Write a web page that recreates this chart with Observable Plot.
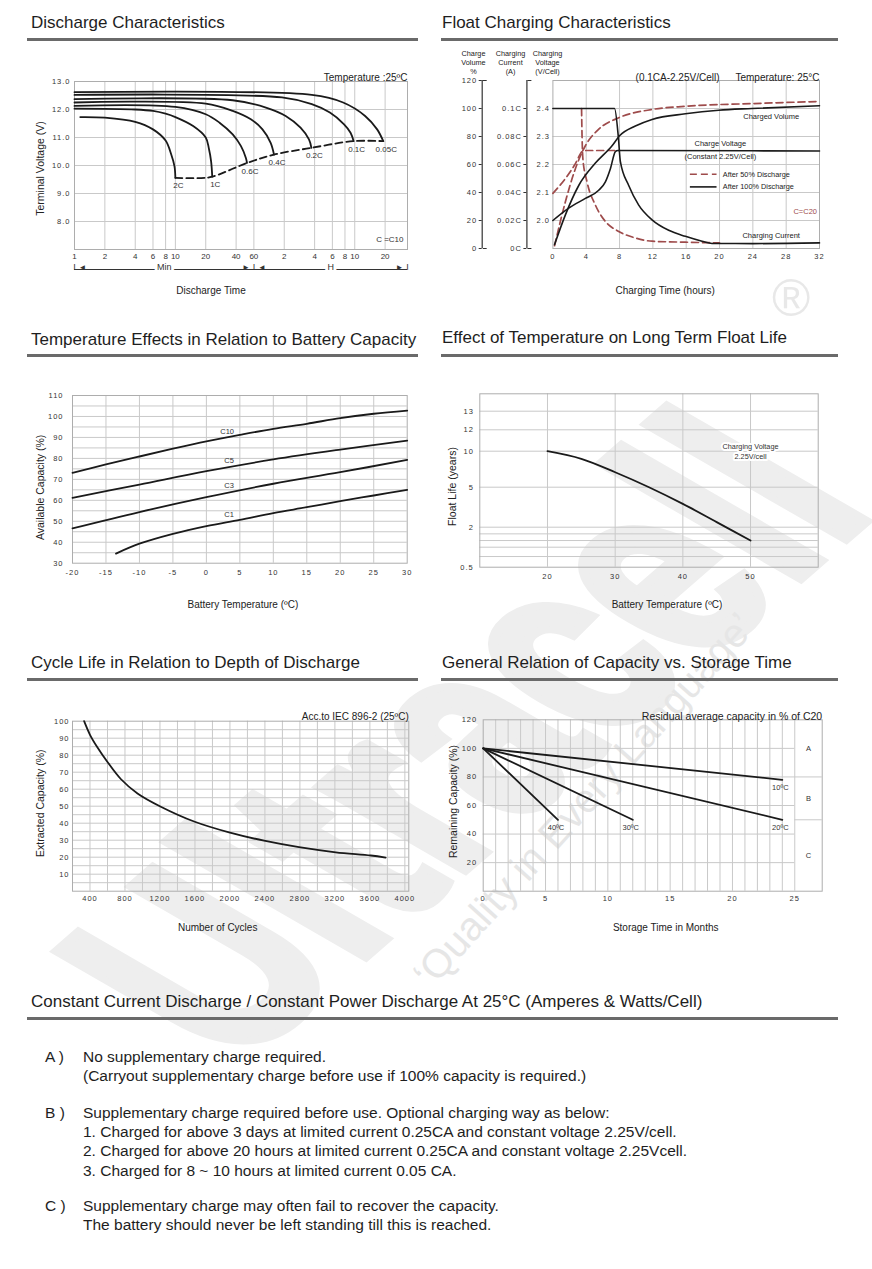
<!DOCTYPE html>
<html>
<head>
<meta charset="utf-8">
<script src="https://cdn.jsdelivr.net/npm/d3@7"></script>
<script src="https://cdn.jsdelivr.net/npm/@observablehq/plot@0.6"></script>
<style>
html,body{margin:0;padding:0;background:#fff;}
#page{position:relative;width:872px;height:1269px;overflow:hidden;font-family:"Liberation Sans",Arial,Helvetica,sans-serif;color:#1e1e1e;}
.wm{position:absolute;white-space:nowrap;line-height:1;transform-origin:50% 50%;}
.title{position:absolute;font-size:17px;line-height:20px;white-space:nowrap;color:#1e1e1e;}
.bar{position:absolute;height:3px;background:#6a6a6a;}
.note{position:absolute;font-size:15.5px;line-height:19px;white-space:nowrap;color:#1e1e1e;}
.sp g[aria-label$="tick label"] text{letter-spacing:1px;}
</style>
</head>
<body>
<div id="page"></div>
<script>
// ================= DATA =================
// Discharge characteristics (time in minutes, terminal voltage in V)
const dischargeTicks = [1,2,4,6,8,10,20,40,60,120,240,360,480,600,1200];
const dischargeTickLabels = ["1","2","4","6","8","10","20","40","60","2","4","6","8","10","20"];
const voltTicks = [8,9,10,11,12,13];
const rateNames = ["2C","1C","0.6C","0.4C","0.2C","0.1C","0.05C"];
const curve2C   = [[1.14,11.73],[2,11.71],[4,11.56],[6,11.29],[8,10.89],[9.1,10.39],[9.8,9.97],[10,9.56]];
const curve1C   = [[1,12.03],[4,12.0],[6,11.95],[8,11.85],[10,11.73],[15,11.41],[20,11.0],[21.5,10.6],[22.6,10.15],[23.2,9.6]];
const curve06C  = [[1,12.13],[10,12.09],[20,11.83],[27.4,11.53],[37,11.11],[44.7,10.69],[50,10.27],[51.3,10.09]];
const curve04C  = [[1,12.25],[20,12.21],[37,11.95],[56,11.65],[73,11.29],[88,10.81],[95,10.39]];
const curve02C  = [[1,12.37],[37,12.33],[79,12.07],[124,11.77],[174,11.35],[211,10.93],[223,10.63]];
const curve01C  = [[1,12.52],[114,12.43],[225,12.19],[340,11.89],[470,11.47],[545,11.17],[585,10.87]];
const curve005C = [[1,12.62],[225,12.52],[460,12.25],[760,11.77],[1000,11.29],[1150,10.87]];
const endVoltage = [[10,9.56],[18,9.55],[23.2,9.6],[51.3,10.09],[95,10.39],[223,10.63],[585,10.87],[1150,10.87]];
const dischargeDomain = [1, 2000];

// Float charging (hours; volume %, current in C, voltage V/cell)
const floatHourTicks = [0,4,8,12,16,20,24,28,32];
const volumeTicks = [0,20,40,60,80,100,120];
const currentTicks = [0,0.02,0.04,0.06,0.08,0.1];
const voltageTicks = [2.0,2.1,2.2,2.3,2.4];
const volume100 = [[0.2,2.8],[1.5,24],[3.1,45],[5.1,61],[7.1,73.4],[8,80.5],[9.9,87.5],[11.9,92.2],[15.9,96.2],[19.9,98.8],[23.9,100],[32,102]];
const current100 = [[0,0.1],[7.4,0.1],[7.85,0.08],[8.1,0.062],[9.1,0.045],[10.3,0.031],[11.9,0.0205],[13.9,0.013],[15.9,0.0087],[17.9,0.0052],[19.1,0.0036],[24,0.0035],[32,0.004]];
const voltage100 = [[0,2.0],[1.9,2.044],[3.9,2.079],[5.5,2.108],[6.3,2.138],[6.9,2.185],[7.5,2.246],[7.8,2.25],[32,2.248]];
const volume50 = [[0.2,2],[1.5,33.4],[2.7,57],[3.9,73.4],[5.5,85.2],[7.9,93.4],[11.9,99.3],[15.9,101.6],[23.9,103.5],[32,105]];
const current50 = [[3.44,0.1],[3.5,0.08],[3.6,0.064],[4.1,0.0475],[5.1,0.031],[6.3,0.0193],[7.9,0.0122],[9.9,0.0075],[11.9,0.0052],[15.9,0.0045],[20,0.004]];
const voltage50 = [[0,2.097],[1.5,2.15],[2.7,2.203],[3.5,2.246],[3.8,2.25],[8,2.25]];

// Temperature effects on capacity
const tempTicks = [-20,-15,-10,-5,0,5,10,15,20,25,30];
const capTicks = [30,40,50,60,70,80,90,100,110];
const capNames = ["C10","C5","C3","C1"];
const capC10 = [[-20,73.1],[-15,77.1],[-10,80.9],[-5,84.6],[0,88.1],[5,91.2],[10,94.1],[15,96.5],[20,99.2],[25,101.3],[30,102.8]];
const capC5  = [[-20,61.2],[-10,67.5],[0,73.9],[10,79.5],[20,84.2],[30,88.5]];
const capC3  = [[-20,46.6],[-10,54.4],[0,61.5],[10,67.9],[20,73.4],[30,79.3]];
const capC1  = [[-13.5,34.6],[-10,39.3],[-5,44.0],[0,47.7],[5,50.7],[10,53.9],[15,56.7],[20,59.6],[25,62.3],[30,65.0]];
const capLabelAt = [[3.1,93],[3.4,79],[3.4,67.1],[3.4,53.2]];

// Float life vs temperature
const lifeTempTicks = [20,30,40,50];
const lifeYearTicks = [0.5,2,5,10,12,13];
const lifeMinorGrid = [0.9,1.25,1.5,1.75];
const lifeTemp = [20,25,30,35,40,45,50];
const lifeYears = [10,8.94,7.08,5.0,3.75,2.38,1.5];

// Cycle life
const cycleTicks = [400,800,1200,1600,2000,2400,2800,3200,3600,4000];
const extractedTicks = [10,20,30,40,50,60,70,80,90,100];
const cycles = [333,400,486,600,752,943,1210,1590,1990,2390,2790,3210,3610,3780];
const extracted = [100,92,84.5,76,66,57.5,49.7,41.0,34.6,29.7,25.9,22.9,21.0,19.8];

// Storage
const monthTicks = [0,5,10,15,20,25];
const remainTicks = [20,40,60,80,100,120];
const storageTemps = ["10ºC","20ºC","30ºC","40ºC"];
const storageEndMonth = [24,24,12,6];
const storageEndCap = [78,50,50,50];
const storageStartCap = 100;
const zoneNames = ["A","B","C"];
const zoneBands = [[80,120],[50,80],[0,50]];

// ================= HELPERS =================
const page = document.getElementById("page");
const FONT = '"Liberation Sans", Arial, Helvetica, sans-serif';
const GRID = "#c9c9c9", FRAME = "#adadad", INK = "#1a1a1a", TXT = "#333", RED = "#9e4b4b";
const style = {background: "transparent", fontFamily: FONT, fontSize: "8px", color: TXT, overflow: "visible"};
const grid = {stroke: GRID, strokeOpacity: 1, strokeWidth: 1};
const str = d => String(d);
function mount(svg, left, top) {
  svg.style.position = "absolute";
  svg.style.left = left + "px";
  svg.style.top = top + "px";
  svg.style.maxWidth = "none";
  svg.classList.add("sp");
  page.appendChild(svg);
}
function div(cls, text, css) {
  const d = document.createElement("div");
  d.className = cls; d.textContent = text;
  Object.assign(d.style, css);
  page.appendChild(d);
  return d;
}
const yTitle = (t, dx, dy) => Plot.text([t], {frameAnchor: "left", textAnchor: "middle", dx, dy, rotate: -90, fontSize: 10.5, fill: "#222"});

// ================= WATERMARK =================
div("wm", "Ultracell", {left: "-130px", top: "585px", fontSize: "300px", fontWeight: "bold", color: "#eeeeee",
  webkitTextStroke: "10px #eeeeee", transform: "rotate(-41deg) skewX(19deg) scale(0.72,1)"});
div("wm", "®", {left: "772px", top: "272px", fontSize: "52px", color: "#e8e8e8"});
div("wm", "‘Quality in Every Language’", {left: "340px", top: "780px", fontSize: "40px", color: "#e6e6e6",
  transform: "rotate(-48deg)"});

// ================= SECTION TITLES =================
const titles = [
  ["Discharge Characteristics", 31, 13, 27, 418, 38],
  ["Float Charging Characteristics", 442, 13, 441, 838, 38],
  ["Temperature Effects in Relation to Battery Capacity", 31, 330, 27, 418, 354],
  ["Effect of Temperature on Long Term Float Life", 442, 328, 441, 838, 354],
  ["Cycle Life in Relation to Depth of Discharge", 31, 653, 27, 418, 678],
  ["General Relation of Capacity vs. Storage Time", 442, 653, 441, 838, 678],
  ["Constant Current Discharge / Constant Power Discharge At 25°C (Amperes & Watts/Cell)", 31, 992, 27, 838, 1017]
];
for (const [t, x, y, x1, x2, ly] of titles) {
  div("title", t, {left: x + "px", top: y + "px"});
  div("bar", "", {left: x1 + "px", top: ly + "px", width: (x2 - x1) + "px"});
}

// ================= 1. DISCHARGE =================
const dischargeCurves = [curve2C, curve1C, curve06C, curve04C, curve02C, curve01C, curve005C];
const dischargeRows = rateNames.flatMap((r, i) => dischargeCurves[i].map(([t, v]) => ({rate: r, t, v})));
const dischargeEnds = rateNames.map((r, i) => { const c = dischargeCurves[i]; const [t, v] = c[c.length - 1]; return {rate: r, t, v}; });
const span = [dischargeDomain[0], 60, dischargeDomain[1]];
mount(Plot.plot({
  width: 430, height: 250, marginLeft: 74, marginRight: 23, marginTop: 21, marginBottom: 61, style,
  x: {type: "log", domain: dischargeDomain, axis: null},
  y: {domain: [7, 13]},
  marks: [
    Plot.gridX(dischargeTicks, grid),
    Plot.gridY(voltTicks.slice(0, -1), grid),
    Plot.frame({stroke: FRAME}),
    Plot.axisY(voltTicks, {tickSize: 0, tickPadding: 4, fontSize: 7.5, label: null, tickFormat: d => d.toFixed(1)}),
    Plot.line(dischargeRows, {x: "t", y: "v", z: "rate", curve: "catmull-rom", stroke: INK, strokeWidth: 1.8}),
    Plot.line(endVoltage, {x: d => d[0], y: d => d[1], curve: "catmull-rom", stroke: INK, strokeWidth: 1.8, strokeDasharray: "7,4"}),
    Plot.text(dischargeEnds, {x: "t", y: "v", text: "rate", dx: 3, dy: 8, fontSize: 8, fill: TXT}),
    // Min / H span row
    Plot.ruleY([7], {x1: span[0], x2: span[2], dy: 20, stroke: TXT}),
    Plot.text([span[0], span[1]], {x: d => d, frameAnchor: "bottom", dy: 20, dx: 8, text: () => "◄", fontSize: 8, fill: TXT}),
    Plot.text([span[1], span[2]], {x: d => d, frameAnchor: "bottom", dy: 20, dx: -8, text: () => "►", fontSize: 8, fill: TXT}),
    Plot.text(span, {x: d => d, frameAnchor: "bottom", dy: 20, text: () => "I", fontSize: 9, fill: TXT}),
    Plot.text([{t: Math.sqrt(span[0] * span[1]), s: "Min"}, {t: Math.sqrt(span[1] * span[2]), s: "H"}],
      {x: "t", text: "s", frameAnchor: "bottom", dy: 20, fontSize: 9, fill: TXT, stroke: "white", strokeWidth: 6, paintOrder: "stroke"}),
    // x tick labels drawn after the span row so nothing covers them
    Plot.text(dischargeTicks, {x: d => d, text: (d, i) => dischargeTickLabels[i], frameAnchor: "bottom", dy: 7,
      textAnchor: "middle", lineAnchor: "middle", fontSize: 8, fill: TXT, ariaLabel: "x-axis labels"}),
    Plot.text(["Discharge Time"], {frameAnchor: "bottom", dy: 44, dx: -30, fontSize: 10, fill: "#222"}),
    yTitle("Terminal Voltage (V)", -34, 3),
    Plot.text(["Temperature :25ºC"], {frameAnchor: "top-right", textAnchor: "end", dy: -8, fontSize: 10, fill: "#222"}),
    Plot.text(["C =C10"], {frameAnchor: "bottom-right", textAnchor: "end", dx: -4, dy: -8, fontSize: 8, fill: TXT})
  ]
}), 0, 60);

// ================= 2. FLOAT CHARGING =================
const voltPct = v => 20 + (v - 2) * 200;
const ampPct = c => c * 1000;
const floatRows = [
  ...volume100.map(([t, y]) => ({s: "vol100", t, y})),
  ...current100.map(([t, c]) => ({s: "cur100", t, y: ampPct(c)})),
  ...voltage100.map(([t, v]) => ({s: "volt100", t, y: voltPct(v)}))
];
const floatRows50 = [
  ...volume50.map(([t, y]) => ({s: "vol50", t, y})),
  ...current50.map(([t, c]) => ({s: "cur50", t, y: ampPct(c)})),
  ...voltage50.map(([t, v]) => ({s: "volt50", t, y: voltPct(v)}))
];
const floatFrameW = 420 - 112.4 - 41;
const headers = [["Charge\nVolume\n%", -79.4], ["Charging\nCurrent\n(A)", -42.4], ["Charging\nVoltage\n(V/Cell)", -5.4]];
mount(Plot.plot({
  width: 420, height: 270, marginLeft: 112.4, marginRight: 41, marginTop: 40, marginBottom: 62, style,
  x: {domain: [0, 32]},
  y: {domain: [0, 120]},
  marks: [
    Plot.gridX(floatHourTicks.slice(1, -1), grid),
    Plot.gridY([20, 40, 60, 80, 100], grid),
    Plot.frame({stroke: FRAME}),
    Plot.axisX(floatHourTicks, {tickSize: 0, tickPadding: 5, fontSize: 7.5, label: null, tickFormat: str}),
    Plot.axisY(voltageTicks.map(voltPct), {tickSize: 0, tickPadding: 3, fontSize: 7.5, label: null,
      tickFormat: d => (2 + (d - 20) / 200).toFixed(1)}),
    Plot.axisY(currentTicks.map(ampPct), {tickSize: 3, tickPadding: 2, dx: -26, fontSize: 7.5, label: null,
      tickFormat: d => (Math.round(d) / 1000) + "C"}),
    Plot.axisY(volumeTicks, {tickSize: 3, tickPadding: 2, dx: -70.7, fontSize: 7.5, label: null, tickFormat: str}),
    Plot.ruleX([0], {y1: 0, y2: 120, dx: -26, stroke: TXT, strokeWidth: 1.2}),
    Plot.ruleX([0], {y1: 0, y2: 120, dx: -70.7, stroke: TXT, strokeWidth: 1.2}),
    Plot.axisY([0, 120], {anchor: "right", tickSize: 4, dx: -(floatFrameW + 26), tickFormat: () => "", label: null}),
    Plot.axisY([0, 120], {anchor: "right", tickSize: 4, dx: -(floatFrameW + 70.7), tickFormat: () => "", label: null}),
    ...headers.map(([h, dx]) => Plot.text([h], {frameAnchor: "top-left", dx, dy: -31, lineAnchor: "top", textAnchor: "middle", fontSize: 7.3, lineHeight: 1.25, fill: "#222"})),
    Plot.line(floatRows50, {x: "t", y: "y", z: "s", curve: "monotone-x", stroke: RED, strokeWidth: 1.7, strokeDasharray: "7,4"}),
    Plot.line(floatRows, {x: "t", y: "y", z: "s", curve: "monotone-x", stroke: INK, strokeWidth: 1.6}),
    Plot.text(["Charged Volume"], {x: 26.2, y: 94, fontSize: 7.5, fill: "#222"}),
    Plot.text(["Charge Voltage"], {x: 20.1, y: 74.6, fontSize: 7.5, fill: "#222"}),
    Plot.text(["(Constant 2.25V/Cell)"], {x: 20.1, y: 65.6, fontSize: 7.5, fill: "#222"}),
    Plot.ruleY([53], {x1: 16.5, x2: 19.7, stroke: RED, strokeWidth: 1.6, strokeDasharray: "7,4"}),
    Plot.ruleY([44], {x1: 16.5, x2: 19.7, stroke: INK, strokeWidth: 1.6}),
    Plot.text(["After 50% Discharge"], {x: 20.4, y: 53, textAnchor: "start", fontSize: 7.3, fill: "#222"}),
    Plot.text(["After 100% Discharge"], {x: 20.4, y: 44, textAnchor: "start", fontSize: 7.3, fill: "#222"}),
    Plot.text(["C=C20"], {x: 31.7, y: 26.4, textAnchor: "end", fontSize: 7.5, fill: RED}),
    Plot.text(["Charging Current"], {x: 26.2, y: 9.4, fontSize: 7.5, fill: "#222"}),
    Plot.text(["Temperature: 25°C"], {frameAnchor: "top-right", textAnchor: "end", dy: -7, fontSize: 10, fill: "#222"}),
    Plot.text(["(0.1CA-2.25V/Cell)"], {frameAnchor: "top-right", textAnchor: "end", dx: -100, dy: -7, fontSize: 10, fill: "#222"}),
    Plot.text(["Charging Time (hours)"], {frameAnchor: "bottom", dy: 45, dx: -21, fontSize: 10, fill: "#222"})
  ]
}), 440, 40);

// ================= 3. TEMPERATURE vs CAPACITY =================
const capCurves = [capC10, capC5, capC3, capC1];
const capRows = capNames.flatMap((n, i) => capCurves[i].map(([t, c]) => ({n, t, c})));
const capLabels = capNames.map((n, i) => ({n, t: capLabelAt[i][0], c: capLabelAt[i][1]}));
mount(Plot.plot({
  width: 430, height: 260, marginLeft: 72, marginRight: 23.3, marginTop: 25, marginBottom: 67.3, style,
  x: {domain: [-20, 30]},
  y: {domain: [30, 110]},
  marks: [
    Plot.gridX(tempTicks.slice(1, -1), grid),
    Plot.gridY(d3.range(35, 110, 5), grid),
    Plot.frame({stroke: FRAME}),
    Plot.axisX(tempTicks, {tickSize: 0, tickPadding: 6, fontSize: 7.5, label: null, tickFormat: str}),
    Plot.axisY(capTicks, {tickSize: 0, tickPadding: 9, fontSize: 7.5, label: null, tickFormat: str}),
    Plot.line(capRows, {x: "t", y: "c", z: "n", curve: "catmull-rom", stroke: INK, strokeWidth: 1.8}),
    Plot.text(capLabels, {x: "t", y: "c", text: "n", fontSize: 7.5, fill: TXT}),
    Plot.text(["Battery Temperature (ºC)"], {frameAnchor: "bottom", dy: 45, dx: 3, fontSize: 10, fill: "#222"}),
    yTitle("Available Capacity (%)", -32, 8)
  ]
}), 0, 370);

// ================= 4. FLOAT LIFE =================
mount(Plot.plot({
  width: 420, height: 260, marginLeft: 39.3, marginRight: 42.3, marginTop: 23.3, marginBottom: 63.3, style,
  x: {domain: [10, 60]},
  y: {type: "linear", domain: [0.5, 2, 5, 10, 12, 13, 14], range: [196.7, 156.7, 116.7, 80.7, 59.3, 40.7, 22.1]},
  marks: [
    Plot.gridX(lifeTempTicks, grid),
    Plot.gridY([...lifeMinorGrid, ...lifeYearTicks.slice(1)], grid),
    Plot.frame({stroke: FRAME}),
    Plot.axisX(lifeTempTicks, {tickSize: 0, tickPadding: 6, fontSize: 7.5, label: null, tickFormat: str}),
    Plot.axisY(lifeYearTicks, {tickSize: 0, tickPadding: 6, fontSize: 7.5, label: null, tickFormat: str}),
    Plot.line(lifeTemp, {x: d => d, y: (d, i) => lifeYears[i], curve: "catmull-rom", stroke: INK, strokeWidth: 1.8}),
    Plot.text(["Charging Voltage\n2.25V/cell"], {x: 50, y: 10, fontSize: 7.3, lineHeight: 1.3, fill: "#333", stroke: "white", strokeWidth: 4, paintOrder: "stroke"}),
    Plot.text(["Battery Temperature (ºC)"], {frameAnchor: "bottom", dy: 41, dx: 18, fontSize: 10, fill: "#222"}),
    yTitle("Float Life (years)", -27, 6)
  ]
}), 440, 370);

// ================= 5. CYCLE LIFE =================
mount(Plot.plot({
  width: 430, height: 260, marginLeft: 72, marginRight: 21.7, marginTop: 30.7, marginBottom: 59.3, style,
  x: {domain: [200, 4045]},
  y: {domain: [0, 100]},
  marks: [
    Plot.gridX(d3.range(400, 4001, 200), grid),
    Plot.gridY(d3.range(5, 100, 5), grid),
    Plot.frame({stroke: FRAME}),
    Plot.axisX(cycleTicks, {tickSize: 0, tickPadding: 4, fontSize: 7.5, label: null, tickFormat: str}),
    Plot.axisY(extractedTicks, {tickSize: 0, tickPadding: 3, fontSize: 7.5, label: null, tickFormat: str}),
    Plot.line(cycles, {x: d => d, y: (d, i) => extracted[i], curve: "catmull-rom", stroke: INK, strokeWidth: 1.8}),
    Plot.text(["Acc.to IEC 896-2 (25ºC)"], {frameAnchor: "top-right", textAnchor: "end", dy: -8, fontSize: 10, fill: "#222"}),
    Plot.text(["Number of Cycles"], {frameAnchor: "bottom", dy: 40, dx: -23, fontSize: 10, fill: "#222"}),
    yTitle("Extracted Capacity (%)", -32, -3)
  ]
}), 0, 690);

// ================= 6. STORAGE =================
const storageRows = storageTemps.flatMap((s, i) => [{s, m: 0, c: storageStartCap}, {s, m: storageEndMonth[i], c: storageEndCap[i]}]);
const storageEnds = storageTemps.map((s, i) => ({s, m: storageEndMonth[i], c: storageEndCap[i]}));
const monthsMax = 27.2;
const gridEnd = monthTicks[monthTicks.length - 1];
mount(Plot.plot({
  width: 420, height: 260, marginLeft: 42.7, marginRight: 38.3, marginTop: 29.3, marginBottom: 59.3, style,
  x: {domain: [0, monthsMax]},
  y: {domain: [0, 120]},
  marks: [
    Plot.gridX(d3.range(1, gridEnd + 1), grid),
    Plot.ruleY([20, 40, 60, 80, 100], {x1: 0, x2: gridEnd, ...grid}),
    Plot.ruleY([zoneBands[0][0], zoneBands[1][0]], {x1: gridEnd, x2: monthsMax, ...grid}),
    Plot.frame({stroke: FRAME}),
    Plot.axisX(monthTicks, {tickSize: 0, tickPadding: 4, fontSize: 7.5, label: null, tickFormat: str}),
    Plot.axisY(remainTicks, {tickSize: 0, tickPadding: 6, fontSize: 7.5, label: null, tickFormat: str}),
    Plot.line(storageRows, {x: "m", y: "c", z: "s", stroke: INK, strokeWidth: 1.8}),
    Plot.text(storageEnds, {x: "m", y: "c", text: "s", dx: -2, dy: 8, fontSize: 7.5, fill: TXT}),
    Plot.text(zoneNames, {x: (gridEnd + monthsMax) / 2, y: (d, i) => (zoneBands[i][0] + zoneBands[i][1]) / 2, text: d => d, fontSize: 7.5, fill: TXT}),
    Plot.text(["Residual average capacity in % of C20"], {frameAnchor: "top-right", textAnchor: "end", dy: -7, fontSize: 10.5, fill: "#222"}),
    Plot.text(["Storage Time in Months"], {frameAnchor: "bottom", dy: 40, dx: 13, fontSize: 10, fill: "#222"}),
    yTitle("Remaining Capacity (%)", -30, -4)
  ]
}), 440, 690);

// ================= NOTES =================
const notes = [
  ["A )", 1057, ["No supplementary charge required.", "(Carryout supplementary charge before use if 100% capacity is required.)"]],
  ["B )", 1113, ["Supplementary charge required before use. Optional charging way as below:",
                 "1. Charged for above 3 days at limited current 0.25CA and constant voltage 2.25V/cell.",
                 "2. Charged for above 20 hours at limited current 0.25CA and constant voltage 2.25Vcell.",
                 "3. Charged for 8 ~ 10 hours at limited current 0.05 CA."]],
  ["C )", 1206, ["Supplementary charge may often fail to recover the capacity.",
                 "The battery should never be left standing till this is reached."]]
];
for (const [k, y, lines] of notes) {
  div("note", k, {left: "45px", top: (y - 10) + "px"});
  lines.forEach((l, i) => div("note", l, {left: "83px", top: (y - 10 + i * 19.2) + "px"}));
}
</script>
</body>
</html>
